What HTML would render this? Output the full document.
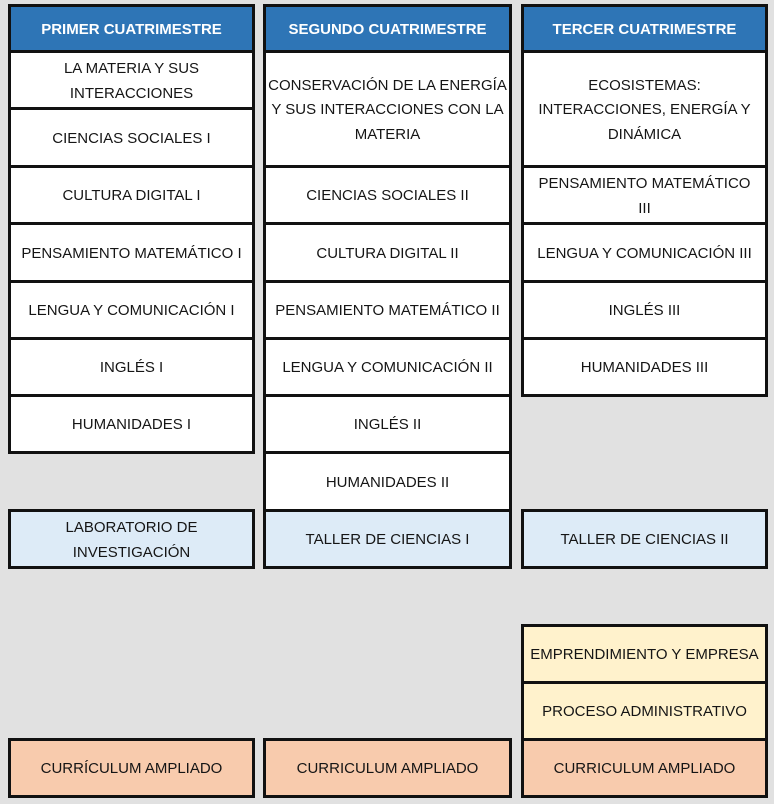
<!DOCTYPE html>
<html><head><meta charset="utf-8">
<style>
html,body{margin:0;padding:0;}
body{width:774px;height:804px;background:#e1e1e1;position:relative;overflow:hidden;font-family:"Liberation Sans",Arial,sans-serif;}
.c{position:absolute;box-sizing:border-box;border:3px solid #111;background:#fff;display:flex;align-items:center;justify-content:center;text-align:center;font-size:15px;color:#151515;line-height:24.5px;white-space:nowrap;padding-top:3px;}
.h{background:#2e75b6;color:#fff;font-weight:bold;font-size:15px;padding-top:3px;}
.b{background:#ddebf7;}
.y{background:#fff2cc;}
.p{background:#f8cbad;}
</style></head><body>
<!-- column 1 -->
<div class="c h" style="left:8px;top:4px;width:247px;height:49px;">PRIMER CUATRIMESTRE</div>
<div class="c" style="left:8px;top:50px;width:247px;height:60px;">LA MATERIA Y SUS<br>INTERACCIONES</div>
<div class="c" style="left:8px;top:107px;width:247px;height:61px;">CIENCIAS SOCIALES I</div>
<div class="c" style="left:8px;top:165px;width:247px;height:60px;">CULTURA DIGITAL I</div>
<div class="c" style="left:8px;top:222px;width:247px;height:61px;">PENSAMIENTO MATEMÁTICO I</div>
<div class="c" style="left:8px;top:280px;width:247px;height:60px;">LENGUA Y COMUNICACIÓN I</div>
<div class="c" style="left:8px;top:337px;width:247px;height:60px;">INGLÉS I</div>
<div class="c" style="left:8px;top:394px;width:247px;height:60px;">HUMANIDADES I</div>
<div class="c b" style="left:8px;top:509px;width:247px;height:60px;">LABORATORIO DE<br>INVESTIGACIÓN</div>
<div class="c p" style="left:8px;top:738px;width:247px;height:60px;">CURRÍCULUM AMPLIADO</div>

<!-- column 2 -->
<div class="c h" style="left:263px;top:4px;width:249px;height:49px;">SEGUNDO CUATRIMESTRE</div>
<div class="c" style="left:263px;top:50px;width:249px;height:118px;">CONSERVACIÓN DE LA ENERGÍA<br>Y SUS INTERACCIONES CON LA<br>MATERIA</div>
<div class="c" style="left:263px;top:165px;width:249px;height:60px;">CIENCIAS SOCIALES II</div>
<div class="c" style="left:263px;top:222px;width:249px;height:61px;">CULTURA DIGITAL II</div>
<div class="c" style="left:263px;top:280px;width:249px;height:60px;">PENSAMIENTO MATEMÁTICO II</div>
<div class="c" style="left:263px;top:337px;width:249px;height:60px;">LENGUA Y COMUNICACIÓN II</div>
<div class="c" style="left:263px;top:394px;width:249px;height:60px;">INGLÉS II</div>
<div class="c" style="left:263px;top:451px;width:249px;height:61px;">HUMANIDADES II</div>
<div class="c b" style="left:263px;top:509px;width:249px;height:60px;">TALLER DE CIENCIAS I</div>
<div class="c p" style="left:263px;top:738px;width:249px;height:60px;">CURRICULUM AMPLIADO</div>

<!-- column 3 -->
<div class="c h" style="left:521px;top:4px;width:247px;height:49px;">TERCER CUATRIMESTRE</div>
<div class="c" style="left:521px;top:50px;width:247px;height:118px;">ECOSISTEMAS:<br>INTERACCIONES, ENERGÍA Y<br>DINÁMICA</div>
<div class="c" style="left:521px;top:165px;width:247px;height:60px;">PENSAMIENTO MATEMÁTICO<br>III</div>
<div class="c" style="left:521px;top:222px;width:247px;height:61px;">LENGUA Y COMUNICACIÓN III</div>
<div class="c" style="left:521px;top:280px;width:247px;height:60px;">INGLÉS III</div>
<div class="c" style="left:521px;top:337px;width:247px;height:60px;">HUMANIDADES III</div>
<div class="c b" style="left:521px;top:509px;width:247px;height:60px;">TALLER DE CIENCIAS II</div>
<div class="c y" style="left:521px;top:624px;width:247px;height:60px;">EMPRENDIMIENTO Y EMPRESA</div>
<div class="c y" style="left:521px;top:681px;width:247px;height:60px;">PROCESO ADMINISTRATIVO</div>
<div class="c p" style="left:521px;top:738px;width:247px;height:60px;">CURRICULUM AMPLIADO</div>
</body></html>
